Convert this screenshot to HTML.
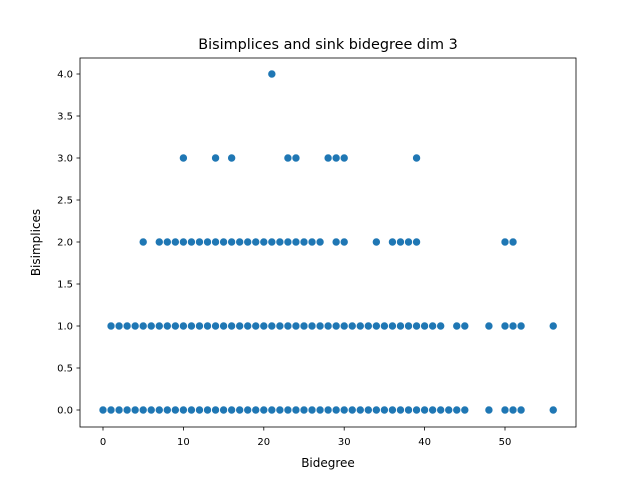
<!DOCTYPE html>
<html><head><meta charset="utf-8"><style>
body{margin:0;background:#fff;font-family:"Liberation Sans","DejaVu Sans",sans-serif;}
svg text{font-family:"DejaVu Sans","Liberation Sans",sans-serif;fill:#000;}
</style></head><body>
<svg id="chart" width="640" height="480" xmlns="http://www.w3.org/2000/svg">
<rect width="640" height="480" fill="#fff"/>
<text x="328" y="49" font-size="14.4" text-anchor="middle">Bisimplices and sink bidegree dim 3</text>
<g id="plot"></g>
<rect x="80" y="58" width="496" height="369" fill="none" stroke="#000" stroke-width="0.8"/>
<text x="328" y="467" font-size="12" text-anchor="middle">Bidegree</text>
<text transform="translate(40,242.5) rotate(-90)" font-size="12" text-anchor="middle">Bisimplices</text>
</svg>
<script>
const row0X = [0,1,2,3,4,5,6,7,8,9,10,11,12,13,14,15,16,17,18,19,20,21,22,23,24,25,26,27,28,29,30,31,32,33,34,35,36,37,38,39,40,41,42,43,44,45,48,50,51,52,56];
const row1X = [1,2,3,4,5,6,7,8,9,10,11,12,13,14,15,16,17,18,19,20,21,22,23,24,25,26,27,28,29,30,31,32,33,34,35,36,37,38,39,40,41,42,44,45,48,50,51,52,56];
const row2X = [5,7,8,9,10,11,12,13,14,15,16,17,18,19,20,21,22,23,24,25,26,27,29,30,34,36,37,38,39,50,51];
const row3X = [10,14,16,23,24,28,29,30,39];
const row4X = [21];
const rowY = [0,1,2,3,4];
const xTicks = [0,10,20,30,40,50];
const yTicks = [0.0,0.5,1.0,1.5,2.0,2.5,3.0,3.5,4.0];

const NS = "http://www.w3.org/2000/svg";
function xs(v){ return 103 + v*8.04; }
function ys(v){ return 410 - v*84; }
const plot = document.getElementById('plot');
const svg = document.getElementById('chart');

xTicks.forEach(t=>{
  const l=document.createElementNS(NS,'line');
  l.setAttribute('x1',xs(t));l.setAttribute('x2',xs(t));l.setAttribute('y1',427);l.setAttribute('y2',430.5);l.setAttribute('stroke','#000');l.setAttribute('stroke-width','0.8');
  
  
  svg.appendChild(l);
  const tx=document.createElementNS(NS,'text');
  tx.setAttribute('x',xs(t));tx.setAttribute('y',445);tx.setAttribute('font-size','10');tx.setAttribute('text-anchor','middle');
  tx.textContent=t;
  
  
  svg.appendChild(tx);
});
yTicks.forEach(t=>{
  const l=document.createElementNS(NS,'line');
  l.setAttribute('x1',76.5);l.setAttribute('x2',80);l.setAttribute('y1',ys(t));l.setAttribute('y2',ys(t));l.setAttribute('stroke','#000');l.setAttribute('stroke-width','0.8');
  
  
  svg.appendChild(l);
  const tx=document.createElementNS(NS,'text');
  tx.setAttribute('x',73);tx.setAttribute('y',ys(t)+3.6);tx.setAttribute('font-size','10');tx.setAttribute('text-anchor','end');
  tx.textContent=t.toFixed(1);
  
  
  svg.appendChild(tx);
});
[row0X,row1X,row2X,row3X,row4X].forEach((arr,i)=>{
  arr.forEach(x=>{
    const c=document.createElementNS(NS,'circle');
    c.setAttribute('cx',xs(x));c.setAttribute('cy',ys(rowY[i]));c.setAttribute('r',4);
    c.setAttribute('fill','#1f77b4');c.setAttribute('stroke','#fff');c.setAttribute('stroke-width','0.6');
    
    
    plot.appendChild(c);
  });
});
</script>
</body></html>
